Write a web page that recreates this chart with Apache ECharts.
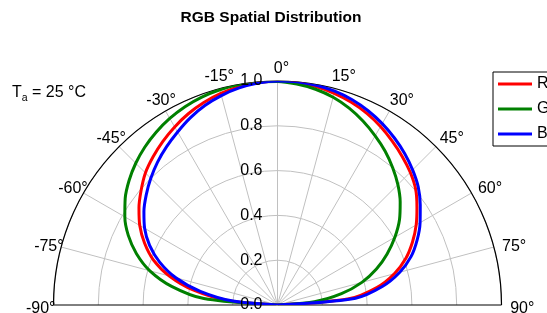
<!DOCTYPE html>
<html>
<head>
<meta charset="utf-8">
<script src="https://cdn.jsdelivr.net/npm/echarts@6/dist/echarts.min.js"></script>
<style>
html, body { margin: 0; padding: 0; background: #fff; }
#chart { width: 547px; height: 313px; }
</style>
</head>
<body>
<div id="chart"></div>
<script>
// angle off axis (deg) and relative intensity of each channel
var angles = [-90, -85, -80, -75, -70, -65, -60, -55, -50, -45, -40, -35, -30, -25, -20, -15, -10, -5,
    0, 5, 10, 15, 20, 25, 30, 35, 40, 45, 50, 55, 60, 65, 70, 75, 80, 85, 90];
var redR = [0, 0.22, 0.38, 0.50, 0.59, 0.655, 0.71, 0.755, 0.795, 0.834, 0.864, 0.892, 0.918, 0.942, 0.962, 0.978, 0.99, 0.997,
    1.0, 0.997, 0.99, 0.978, 0.963, 0.944, 0.92, 0.893, 0.866, 0.838, 0.805, 0.76, 0.715, 0.665, 0.61, 0.54, 0.45, 0.32, 0];
var greenR = [0, 0.33, 0.48, 0.59, 0.67, 0.735, 0.787, 0.83, 0.865, 0.895, 0.921, 0.943, 0.962, 0.977, 0.988, 0.995, 0.999, 1.0,
    0.998, 0.99, 0.978, 0.96, 0.935, 0.905, 0.872, 0.838, 0.80, 0.76, 0.715, 0.665, 0.605, 0.54, 0.47, 0.39, 0.29, 0.165, 0];
var blueR = [0, 0.20, 0.35, 0.47, 0.56, 0.63, 0.685, 0.728, 0.765, 0.80, 0.833, 0.863, 0.892, 0.922, 0.948, 0.968, 0.984, 0.995,
    1.0, 1.0, 0.996, 0.988, 0.975, 0.957, 0.935, 0.91, 0.883, 0.853, 0.82, 0.778, 0.735, 0.688, 0.635, 0.565, 0.475, 0.35, 0];
// angle tick labels around the rim
var angleTicks = [-90, -75, -60, -45, -30, -15, 0, 15, 30, 45, 60, 75, 90];
var names = ['R', 'G', 'B'];
var colors = ['#ff0000', '#008000', '#0000ff'];

var font = '"Liberation Sans", Arial, sans-serif';
var grey = '#c0c0c0';
var center = [277.5, 305];
var radius = 224;
var labelRadius = 1.075; // rim labels sit a bit outside the unit circle

function pairs(r) {
    return angles.map(function (a, i) { return [r[i], a]; });
}

// black lines at -90 and 90 (the base line), grey in between
var spokeColors = ['#000'];
for (var i = 1; i < 12; i++) spokeColors.push(grey);
spokeColors.push('#000');

var chart = echarts.init(document.getElementById('chart'));
var series = [redR, greenR, blueR].map(function (r, i) {
    return {
        name: names[i],
        type: 'line',
        coordinateSystem: 'polar',
        polarIndex: 0,
        data: pairs(r),
        symbol: 'none',
        smooth: 0.3,
        lineStyle: { color: colors[i], width: 3 },
        itemStyle: { color: colors[i] }
    };
});

// rim labels, placed through the polar system so they come out centred
series.push({
    name: 'ticks',
    type: 'scatter',
    coordinateSystem: 'polar',
    polarIndex: 0,
    silent: true,
    clip: false,
    z: 10,
    symbol: 'circle',
    symbolSize: 2,
    itemStyle: { color: '#fff', opacity: 0 },
    data: angleTicks.map(function (a) { return [labelRadius, a]; }),
    label: {
        show: true,
        position: [5, 5],
        align: 'center',
        verticalAlign: 'middle',
        fontFamily: font,
        fontSize: 16,
        color: '#000',
        opacity: 1,
        textBorderWidth: 0,
        formatter: function (p) { return p.value[1] + '°'; }
    },
    labelLayout: { hideOverlap: false }
});

var option = {
    animation: false,
    title: {
        text: 'RGB Spatial Distribution',
        left: 266,
        textAlign: 'center',
        top: 5,
        textStyle: { fontFamily: font, fontSize: 15.5, fontWeight: 'bold', color: '#000' }
    },
    legend: {
        data: names,
        orient: 'vertical',
        left: 493,
        top: 72,
        padding: [4, 20, 4, 5],
        itemWidth: 34,
        itemHeight: 3,
        itemGap: 9,
        icon: 'rect',
        borderColor: '#000',
        borderWidth: 1,
        backgroundColor: '#fff',
        textStyle: { fontFamily: font, fontSize: 16, color: '#000', lineHeight: 15 }
    },
    graphic: [{
        type: 'text',
        left: 12,
        top: 82.5,
        style: {
            text: '{t|T}{s|a}{t| = 25 °C}',
            fill: '#000',
            rich: {
                t: { fontFamily: font, fontSize: 16, lineHeight: 20 },
                s: { fontFamily: font, fontSize: 10.5, lineHeight: 10, padding: [10, 0, 0, 0] }
            }
        }
    }],
    polar: [
        { center: center, radius: radius },
        { center: center, radius: radius }
    ],
    angleAxis: [{
        polarIndex: 0,
        type: 'value',
        min: -90,
        max: 90,
        interval: 15,
        startAngle: 180,
        endAngle: 0,
        clockwise: true,
        axisLine: { lineStyle: { color: '#000', width: 1.2 } },
        axisTick: { show: false },
        axisLabel: { show: false },
        splitLine: { lineStyle: { color: spokeColors, width: 1 } }
    }, {
        polarIndex: 1,
        type: 'value',
        min: 0,
        max: 360,
        startAngle: 90,
        show: false
    }],
    radiusAxis: [{
        polarIndex: 0,
        min: 0,
        max: 1,
        interval: 0.2,
        axisLine: { show: false },
        axisTick: { show: false },
        axisLabel: { show: false },
        splitLine: { lineStyle: { color: grey, width: 1 } }
    }, {
        polarIndex: 1,
        min: 0,
        max: 1,
        interval: 0.2,
        z: 10,
        axisLine: { show: false },
        axisTick: { show: false },
        splitLine: { show: false },
        axisLabel: {
            margin: 15,
            fontFamily: font,
            fontSize: 16,
            color: '#000',
            formatter: function (v) { return v.toFixed(1); }
        }
    }],
    series: series
};

chart.setOption(option);
</script>
</body>
</html>
